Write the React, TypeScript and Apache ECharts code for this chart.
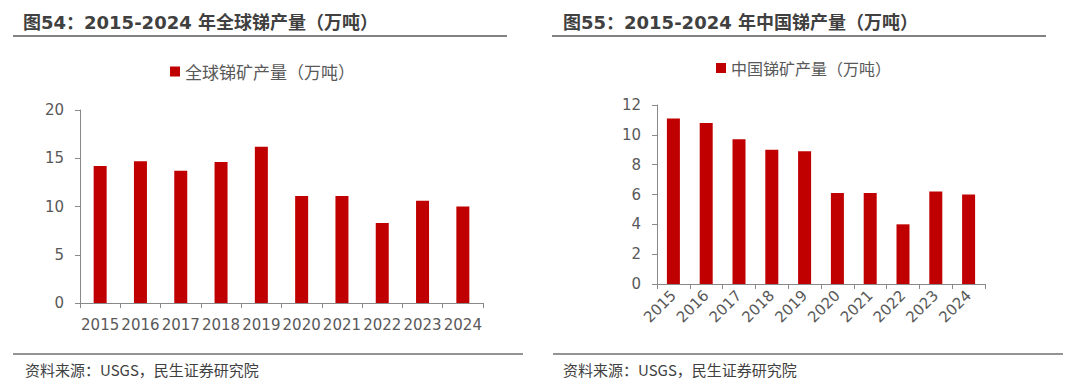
import React, { useEffect, useRef } from "react";
import * as echarts from "echarts";

const years = ["2015", "2016", "2017", "2018", "2019", "2020", "2021", "2022", "2023", "2024"];
const globalOutput = [14.2, 14.7, 13.7, 14.6, 16.2, 11.1, 11.1, 8.3, 10.6, 10.0];
const chinaOutput = [11.1, 10.8, 9.7, 9.0, 8.9, 6.1, 6.1, 4.0, 6.2, 6.0];

const leftTitle = "图54：2015-2024 年全球锑产量（万吨）";
const rightTitle = "图55：2015-2024 年中国锑产量（万吨）";
const globalName = "全球锑矿产量（万吨）";
const chinaName = "中国锑矿产量（万吨）";
const sourceText = "资料来源：USGS，民生证券研究院";

const FONT = "'DejaVu Sans', 'Noto Sans CJK SC', sans-serif";
const CJK = "'Noto Sans CJK SC', sans-serif";
const RED = "#C00000";
const AXIS = "#898989";
const LABEL = "#595959";

export default function App() {
  const ref = useRef<HTMLDivElement>(null);
  useEffect(() => {
    if (!ref.current) return;
    const chart = echarts.init(ref.current, undefined, { renderer: "svg" });
    const axisCommon = {
      axisLine: { show: true, lineStyle: { color: AXIS, width: 1 } },
      axisTick: { show: true, length: 5, lineStyle: { color: AXIS } },
      splitLine: { show: false },
    };
    chart.setOption({
      animation: false,
      textStyle: { fontFamily: FONT },
      legend: [
        {
          data: [globalName],
          left: 165,
          top: 58,
          icon: "rect",
          itemWidth: 10,
          itemHeight: 10,
          itemGap: 6,
          textStyle: { fontSize: 17, color: LABEL, fontFamily: CJK },
        },
        {
          data: [chinaName],
          left: 711,
          top: 55,
          icon: "rect",
          itemWidth: 10,
          itemHeight: 10,
          itemGap: 6,
          textStyle: { fontSize: 16, color: LABEL, fontFamily: CJK },
        },
      ],
      grid: [
        { left: 80, top: 110, right: 597, bottom: 83, containLabel: false },
        { left: 657, top: 105, right: 95, bottom: 102, containLabel: false },
      ],
      xAxis: [
        {
          type: "category",
          gridIndex: 0,
          data: years,
          ...axisCommon,
          axisLabel: { interval: 0, fontSize: 15, color: LABEL, margin: 14, fontFamily: FONT },
        },
        {
          type: "category",
          gridIndex: 1,
          data: years,
          ...axisCommon,
          axisLabel: { interval: 0, rotate: 45, fontSize: 15, color: LABEL, margin: 9, fontFamily: FONT },
        },
      ],
      yAxis: [
        {
          type: "value",
          gridIndex: 0,
          min: 0,
          max: 20,
          interval: 5,
          ...axisCommon,
          axisLabel: { fontSize: 15, color: LABEL, margin: 16, fontFamily: FONT },
        },
        {
          type: "value",
          gridIndex: 1,
          min: 0,
          max: 12,
          interval: 2,
          ...axisCommon,
          axisLabel: { fontSize: 15, color: LABEL, margin: 16, fontFamily: FONT },
        },
      ],
      series: [
        {
          name: globalName,
          type: "bar",
          xAxisIndex: 0,
          yAxisIndex: 0,
          data: globalOutput,
          barWidth: 13,
          itemStyle: { color: RED },
        },
        {
          name: chinaName,
          type: "bar",
          xAxisIndex: 1,
          yAxisIndex: 1,
          data: chinaOutput,
          barWidth: 13,
          itemStyle: { color: RED },
        },
      ],
      graphic: [
        {
          type: "text",
          left: 23,
          top: 13,
          style: { text: leftTitle, fontSize: 18, fontWeight: "bold", fill: "#404040", fontFamily: FONT },
        },
        {
          type: "text",
          left: 563,
          top: 13,
          style: { text: rightTitle, fontSize: 18, fontWeight: "bold", fill: "#404040", fontFamily: FONT },
        },
        { type: "line", shape: { x1: 13, y1: 36, x2: 507, y2: 36 }, style: { stroke: "#595959", lineWidth: 1.5 } },
        { type: "line", shape: { x1: 552, y1: 36, x2: 1046, y2: 36 }, style: { stroke: "#595959", lineWidth: 1.5 } },
        { type: "line", shape: { x1: 13, y1: 354, x2: 523, y2: 354 }, style: { stroke: "#707070", lineWidth: 1.5 } },
        { type: "line", shape: { x1: 553, y1: 354, x2: 1063, y2: 354 }, style: { stroke: "#707070", lineWidth: 1.5 } },
        {
          type: "text",
          left: 25,
          top: 362,
          style: { text: sourceText, fontSize: 15, fill: "#404040", fontFamily: CJK },
        },
        {
          type: "text",
          left: 563,
          top: 362,
          style: { text: sourceText, fontSize: 15, fill: "#404040", fontFamily: CJK },
        },
      ],
    });
    return () => chart.dispose();
  }, []);
  return (
    <div
      ref={ref}
      style={{ position: "absolute", left: 0, top: 0, width: 1080, height: 386, background: "#fff" }}
    />
  );
}
